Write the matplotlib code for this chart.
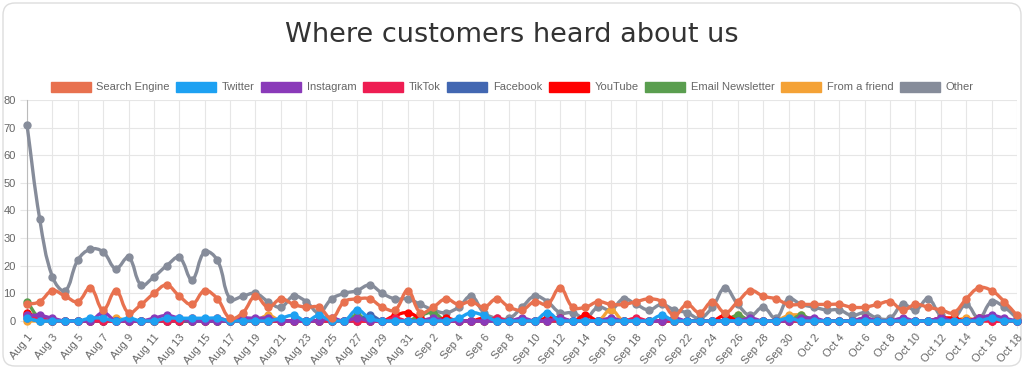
import numpy as np
import matplotlib
matplotlib.use("Agg")
import matplotlib.pyplot as plt
from matplotlib.path import Path
from matplotlib.patches import PathPatch, Patch, FancyBboxPatch
import datetime as dt

plt.rcParams["font.family"] = ["Liberation Sans", "DejaVu Sans"]

# daily dates Aug 1 .. Oct 18
start = dt.date(2023, 8, 1)
dates = [start + dt.timedelta(days=k) for k in range(79)]
date_labels = [d.strftime("%b ") + str(d.day) for d in dates]

search_engine = [6, 7, 11, 9, 7, 12, 4, 11, 3, 6, 10, 13, 9, 6, 11, 8, 1, 3, 9,
                 5, 8, 6, 5, 5, 1, 7, 8, 8, 5, 4, 11, 3, 5,
                 8, 6, 7, 5, 8, 5, 4, 7, 6, 12, 5, 5, 7, 6, 6,
                 7, 8, 7, 2, 6, 3, 7, 3, 7, 11, 9, 8, 6, 6,
                 6, 6, 6, 5, 5, 6, 7, 4, 6, 5, 4, 3, 8, 12, 11, 7, 2]
twitter = [1, 0, 0, 0, 0, 1, 1, 0, 1, 0, 0, 1, 1, 1, 1, 1, 0, 0, 0,
           0, 1, 2, 0, 2, 0, 0, 4, 1, 0, 0, 0, 0, 0,
           0, 1, 3, 2, 0, 0, 0, 0, 3, 0, 0, 0, 0, 0, 0,
           0, 0, 2, 0, 0, 0, 0, 0, 0, 0, 0, 0, 1, 0,
           0, 0, 0, 0, 0, 0, 0, 0, 0, 0, 0, 0, 0, 0, 1, 0, 0]
instagram = [2, 2, 1, 0, 0, 0, 3, 0, 0, 0, 1, 2, 1, 0, 0, 0, 0, 1, 1,
             1, 0, 0, 0, 0, 1, 0, 1, 0, 0, 0, 0, 0, 1,
             0, 0, 0, 0, 0, 0, 1, 0, 0, 1, 0, 0, 0, 1, 0,
             0, 0, 0, 1, 0, 0, 0, 0, 0, 1, 0, 0, 0, 1,
             1, 0, 0, 0, 1, 0, 0, 1, 0, 0, 1, 0, 0, 1, 2, 1, 0]
tiktok = [2, 1, 0, 0, 0, 0, 0, 0, 0, 0, 0, 0, 0, 1, 0, 1, 0, 0, 0,
          0, 0, 0, 0, 0, 0, 0, 0, 0, 0, 1, 0, 0, 0,
          0, 0, 0, 0, 1, 0, 0, 0, 0, 0, 0, 0, 0, 0, 0,
          1, 0, 0, 0, 0, 0, 0, 0, 0, 0, 0, 0, 0, 0,
          0, 0, 0, 0, 1, 0, 0, 0, 0, 0, 1, 0, 0, 0, 0, 0, 0]
facebook = [1, 0, 0, 0, 0, 0, 0, 0, 0, 0, 0, 0, 0, 0, 0, 0, 0, 0, 0,
            0, 0, 0, 0, 0, 0, 0, 0, 2, 0, 0, 0, 0, 0,
            0, 0, 0, 0, 0, 0, 0, 0, 0, 0, 0, 0, 0, 0, 0,
            0, 0, 0, 0, 0, 0, 0, 0, 0, 0, 0, 0, 0, 0,
            0, 0, 0, 0, 0, 0, 0, 0, 0, 0, 0, 0, 0, 0, 1, 0, 0]
youtube = [3, 1, 0, 0, 0, 0, 0, 0, 0, 0, 0, 0, 0, 0, 0, 0, 0, 0, 0,
           0, 0, 0, 0, 0, 0, 0, 0, 0, 0, 2, 3, 1, 0,
           1, 0, 0, 1, 0, 0, 0, 0, 1, 1, 0, 2, 0, 0, 0,
           0, 0, 0, 0, 0, 0, 0, 2, 0, 0, 0, 0, 0, 0,
           0, 0, 0, 0, 0, 0, 0, 0, 0, 0, 1, 1, 0, 1, 0, 0, 0]
email = [7, 1, 0, 0, 0, 0, 0, 0, 0, 0, 0, 0, 0, 0, 0, 0, 0, 0, 0,
         0, 0, 0, 0, 0, 0, 0, 2, 0, 0, 0, 0, 2, 3,
         0, 0, 0, 0, 0, 0, 0, 0, 0, 0, 0, 0, 0, 0, 0,
         0, 0, 0, 0, 0, 0, 0, 0, 2, 0, 0, 0, 0, 2,
         0, 0, 0, 0, 0, 0, 0, 0, 0, 0, 0, 0, 0, 0, 1, 0, 0]
friend = [0, 0, 0, 0, 0, 0, 0, 1, 0, 0, 0, 0, 0, 0, 0, 0, 0, 0, 0,
          2, 0, 0, 0, 0, 0, 0, 0, 0, 0, 0, 0, 0, 0,
          0, 0, 0, 0, 0, 0, 0, 0, 0, 0, 0, 0, 0, 4, 0,
          0, 0, 0, 0, 0, 0, 0, 0, 2, 0, 0, 0, 2, 2,
          0, 0, 0, 0, 0, 0, 0, 0, 0, 0, 0, 0, 1, 0, 0, 0, 0]
other = [71, 37, 16, 11, 22, 26, 25, 19, 23, 13, 16, 20, 23, 15, 25, 22, 8, 9, 10,
         7, 5, 9, 7, 3, 8, 10, 11, 13, 10, 8, 8, 6, 4,
         3, 5, 9, 3, 1, 1, 5, 9, 7, 3, 3, 1, 5, 4, 8,
         6, 4, 6, 4, 3, 1, 5, 12, 6, 2, 5, 1, 8, 6,
         5, 4, 4, 2, 3, 1, 1, 6, 4, 8, 2, 1, 6, 1, 7, 5, 1]

series_names = ["Search Engine", "Twitter", "Instagram", "TikTok", "Facebook",
                "YouTube", "Email Newsletter", "From a friend", "Other"]
series_values = [search_engine, twitter, instagram, tiktok, facebook,
                 youtube, email, friend, other]
series_colors = ["#e8714f", "#1da1f2", "#8a3ab9", "#ee1d52", "#4267b2",
                 "#ff0000", "#5a9e4f", "#f4a236", "#868c9a"]

YMAX = 80


def spline_path(xs, ys, sx, sy, t=0.4):
    # chart.js style bezier spline, computed in pixel space
    px = np.asarray(xs, float) * sx
    py = np.asarray(ys, float) * sy
    n = len(px)
    cin = np.zeros((n, 2))
    cout = np.zeros((n, 2))
    for i in range(n):
        p = max(i - 1, 0)
        q = min(i + 1, n - 1)
        d01 = np.hypot(px[i] - px[p], py[i] - py[p])
        d12 = np.hypot(px[q] - px[i], py[q] - py[i])
        tot = d01 + d12
        s01 = d01 / tot if tot else 0
        s12 = d12 / tot if tot else 0
        dx, dy = px[q] - px[p], py[q] - py[p]
        cin[i] = px[i] - t * s01 * dx, py[i] - t * s01 * dy
        cout[i] = px[i] + t * s12 * dx, py[i] + t * s12 * dy
    cin[:, 1] = np.clip(cin[:, 1], 0, YMAX * sy)
    cout[:, 1] = np.clip(cout[:, 1], 0, YMAX * sy)
    verts = [(px[0], py[0])]
    codes = [Path.MOVETO]
    for i in range(n - 1):
        verts += [tuple(cout[i]), tuple(cin[i + 1]), (px[i + 1], py[i + 1])]
        codes += [Path.CURVE4] * 3
    verts = np.array(verts)
    verts[:, 0] /= sx
    verts[:, 1] /= sy
    return Path(verts, codes)


fig = plt.figure(figsize=(10.24, 3.69), dpi=100)
fig.patches.append(FancyBboxPatch((0.03, 0.03), 10.18, 3.63,
                                  boxstyle="round,pad=0,rounding_size=0.12",
                                  transform=fig.dpi_scale_trans,
                                  facecolor="white", edgecolor="#dddddd",
                                  linewidth=1.0, zorder=-10))

ax = fig.add_axes([27 / 1024, 1 - 321 / 369, 990 / 1024, 221 / 369])
ax.set_facecolor("none")

x = np.arange(len(dates))
n_series = len(series_names)
for k, (name, vals, col) in enumerate(zip(series_names, series_values, series_colors)):
    z = 3 + (n_series - k)
    path = spline_path(x, vals, 12.7, 2.75)
    ax.add_patch(PathPatch(path, facecolor="none", edgecolor=col,
                           linewidth=2.4, zorder=z, capstyle="round",
                           joinstyle="round", clip_on=False))
    ax.plot(x, vals, "o", color=col, markersize=5, zorder=z, clip_on=False)

ax.set_xlim(0, len(dates) - 1)
ax.set_ylim(0, YMAX)
ax.set_yticks(np.arange(0, 81, 10))
ax.set_xticks(x[::2])
ax.set_xticklabels(date_labels[::2], rotation=50, ha="right",
                   rotation_mode="anchor")
ax.tick_params(axis="both", labelsize=8, colors="#666666", length=5,
               color="#e6e6e6", pad=3)
ax.grid(True, color="#e6e6e6", linewidth=0.8)
ax.set_axisbelow(True)
for s in ["top", "right"]:
    ax.spines[s].set_visible(False)
ax.spines["left"].set_color("#bbbbbb")
ax.spines["bottom"].set_color("#bbbbbb")

fig.text(0.5, 1 - 35 / 369, "Where customers heard about us", ha="center",
         va="center", fontsize=19.5, color="#333333", family="DejaVu Sans")

handles = [Patch(facecolor=c, edgecolor=c, label=nm)
           for nm, c in zip(series_names, series_colors)]
leg = fig.legend(handles=handles, loc="center", ncol=9,
                 bbox_to_anchor=(0.5, 1 - 87 / 369), frameon=False,
                 fontsize=8, handlelength=3.6, handleheight=1.0,
                 handletextpad=0.5, columnspacing=0.6)
for t in leg.get_texts():
    t.set_color("#666666")

fig.savefig("out.png", dpi=100)
